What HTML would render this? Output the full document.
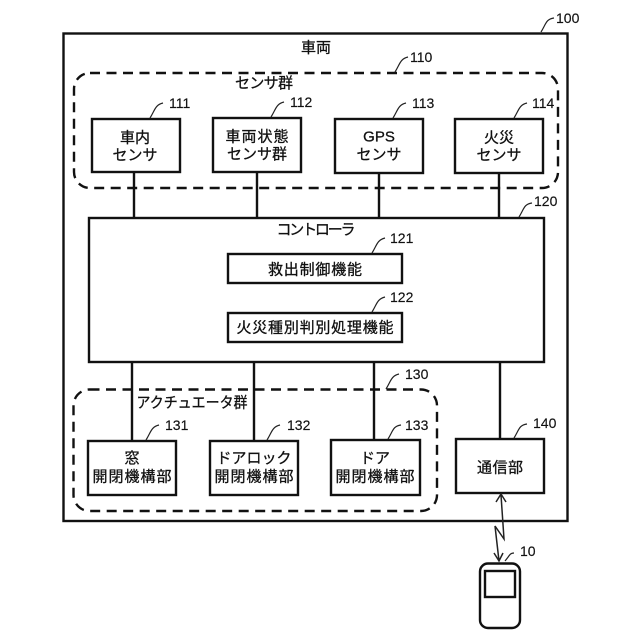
<!DOCTYPE html>
<html><head><meta charset="utf-8"><style>
html,body{margin:0;padding:0;background:#fff;width:640px;height:640px;overflow:hidden}
svg{display:block}
text{font-family:"Liberation Sans","Noto Sans CJK JP",sans-serif;fill:#111;stroke:#111;stroke-width:.3;text-anchor:middle;font-size:15px}
.n{font-size:14px;text-anchor:start;stroke-width:.15}
.b{fill:#fff;stroke:#111;stroke-width:2.4}
.l{fill:none;stroke:#111;stroke-width:2.4}
.d{fill:none;stroke:#111;stroke-width:2.4;stroke-dasharray:10 6.5}
.c{fill:none;stroke:#222;stroke-width:1.2}
</style></head><body>
<svg width="640" height="640" viewBox="0 0 640 640" xmlns="http://www.w3.org/2000/svg">
<rect class="b" x="63.5" y="33.5" width="504" height="487.5"/>
<rect class="d" x="74" y="73" width="484" height="115" rx="16"/>
<rect class="d" x="73.5" y="389.5" width="363.5" height="121.5" rx="16"/>
<path class="l" d="M134 172V218M257 172V218M379 172V218M499 172V218M132 362V441M254 362V441M374 362V441M500 362V439"/>
<rect class="b" x="92" y="119" width="88" height="53"/>
<rect class="b" x="213" y="118" width="88" height="54"/>
<rect class="b" x="335" y="119" width="88" height="54"/>
<rect class="b" x="455" y="119" width="88" height="54"/>
<rect class="b" x="89" y="218" width="455" height="144"/>
<rect class="b" x="228" y="254" width="174" height="29"/>
<rect class="b" x="228" y="313" width="174" height="29"/>
<rect class="b" x="88" y="441" width="88" height="54"/>
<rect class="b" x="210" y="441" width="88" height="54"/>
<rect class="b" x="331" y="440" width="89" height="55"/>
<rect class="b" x="456" y="439" width="88" height="54"/>
<rect class="b" x="480" y="563.5" width="40" height="64.5" rx="8"/>
<rect class="b" x="485" y="571" width="30" height="26"/>
<path class="c" style="stroke-width:1.5" d="M501 495L504 539L495 526L499 561M496 502L501 494L506 502M494 553L499 561L503 553"/>
<path class="c" d="M541 32C546 24 546 19 554 18M395 72C400 64 400 59 408 57M150 118C155 110 155 105 163 103M271 117C276 109 276 104 284 102M393 118C398 110 398 105 406 103M514 118C519 110 519 105 527 103M519 217C524 209 524 204 532 203M372 253C377 245 377 240 385 238M372 312C377 304 377 299 385 297M386 389C391 381 391 376 399 374M146 440C151 432 151 427 159 425M267 440C272 432 272 427 280 425M388 439C393 431 393 426 401 425M514 438C519 430 519 425 527 424M505 561C510 555 510 553 514 553"/>
<text x="316" y="52.5">車両</text>
<text x="264" y="88" textLength="58">センサ群</text>
<text x="135" y="142.5">車内</text><text x="135" y="160">センサ</text>
<text x="257" y="141.5" textLength="63">車両状態</text><text x="257" y="159" textLength="60">センサ群</text>
<text x="379" y="141.5">GPS</text><text x="379" y="159.5">センサ</text>
<text x="499" y="142.5">火災</text><text x="499" y="160">センサ</text>
<text x="316" y="234.5" textLength="79">コントローラ</text>
<text x="315" y="274.5" textLength="94">救出制御機能</text>
<text x="315" y="332.5" textLength="157">火災種別判別処理機能</text>
<text x="192" y="407.5" textLength="111" lengthAdjust="spacingAndGlyphs">アクチュエータ群</text>
<text x="132" y="463">窓</text><text x="132" y="481.5" textLength="79">開閉機構部</text>
<text x="254" y="463">ドアロック</text><text x="254" y="481.5" textLength="79">開閉機構部</text>
<text x="375" y="463">ドア</text><text x="375" y="481.5" textLength="79">開閉機構部</text>
<text x="500" y="472.5" textLength="46">通信部</text>
<text class="n" x="556" y="23">100</text>
<text class="n" x="410" y="62">110</text>
<text class="n" x="169" y="108">111</text>
<text class="n" x="290" y="107">112</text>
<text class="n" x="412" y="108">113</text>
<text class="n" x="532" y="108">114</text>
<text class="n" x="534" y="206">120</text>
<text class="n" x="390" y="243">121</text>
<text class="n" x="390" y="302">122</text>
<text class="n" x="405" y="379">130</text>
<text class="n" x="165" y="430">131</text>
<text class="n" x="287" y="430">132</text>
<text class="n" x="405" y="430">133</text>
<text class="n" x="533" y="428">140</text>
<text class="n" x="520" y="556">10</text>
</svg>
</body></html>
